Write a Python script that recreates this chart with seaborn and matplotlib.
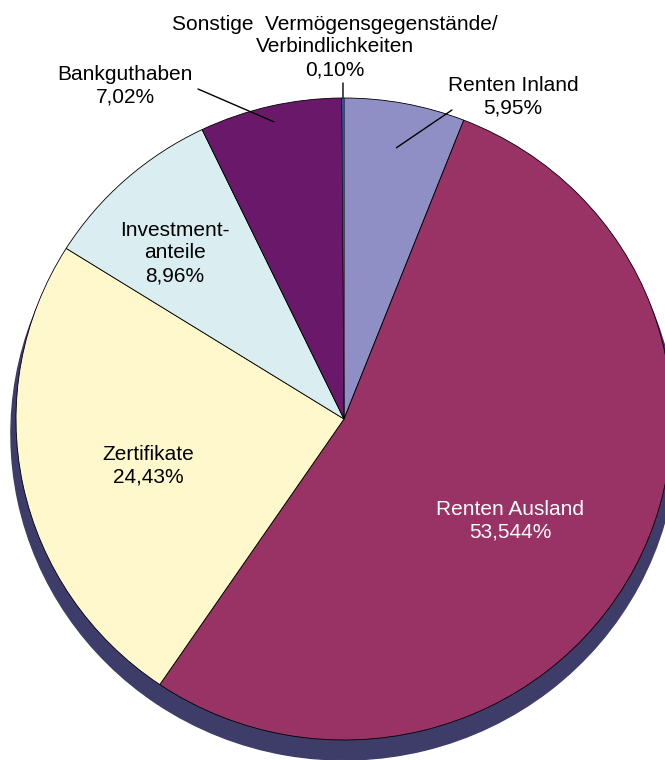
import numpy as np
import matplotlib
matplotlib.use("Agg")
import matplotlib.pyplot as plt
import seaborn as sns

# ---- data ----
categories = ["Renten Inland", "Renten Ausland", "Zertifikate", "Investment-\nanteile",
              "Bankguthaben", "Sonstige  Vermögensgegenstände/\nVerbindlichkeiten"]
shares = [5.95, 53.544, 24.43, 8.96, 7.02, 0.10]
share_labels = ["5,95%", "53,544%", "24,43%", "8,96%", "7,02%", "0,10%"]

# ---- style ----
sns.set_style("white")
plt.rcParams["font.family"] = ["Liberation Sans", "DejaVu Sans"]

colors = ["#8f8fc6", "#993366", "#fff8cc", "#daeef2", "#6a196a", "#2f64c8"]
shadow_color = "#3e3c69"

W, H = 665, 760
CX, CY, RX, RY = 344, 419, 328, 321

def px(x, y):
    return ((x - CX) / RX, (CY - y) / RY)

fig = plt.figure(figsize=(W / 100, H / 100), dpi=100)
ax = fig.add_axes([0, 0, 1, 1])

# 3D-like shadow pie
ax.pie(shares, colors=[shadow_color] * len(shares), radius=1.0155,
       center=(0, -15 / RY), startangle=90, counterclock=False,
       wedgeprops=dict(edgecolor=shadow_color, linewidth=1.0))
# main pie
wedges, _ = ax.pie(shares, colors=colors, startangle=90, counterclock=False,
                   wedgeprops=dict(edgecolor="black", linewidth=0.6))
wedges[5].set_linewidth(0.25)

ax.set_aspect("auto")
ax.set_xlim(-CX / RX, (W - CX) / RX)
ax.set_ylim(-(H - CY) / RY, CY / RY)
ax.axis("off")

# ---- labels ----
label_pos = [(513, 97), (510, 521), (148, 466), (175, 253), (125, 86), (335, 47)]
label_col = ["black", "white", "black", "black", "black", "black"]
for cat, sl, (lx, ly), c in zip(categories, share_labels, label_pos, label_col):
    x, y = px(lx, ly)
    ax.text(x, y, f"{cat}\n{sl}", ha="center", va="center", multialignment="center",
            fontsize=15, color=c, linespacing=1.25)

# leader lines (from wedge middle to label)
leaders = {0: (0.86, (452, 110)), 4: (0.95, (198, 89)), 5: (1.0, (343, 83))}
for i, (rf, (ex, ey)) in leaders.items():
    w = wedges[i]
    mid = np.deg2rad((w.theta1 + w.theta2) / 2)
    x0, y0 = rf * np.cos(mid), rf * np.sin(mid)
    x1, y1 = px(ex, ey)
    ax.plot([x0, x1], [y0, y1], color="black", lw=1.0)

fig.savefig("out.png", dpi=100)
